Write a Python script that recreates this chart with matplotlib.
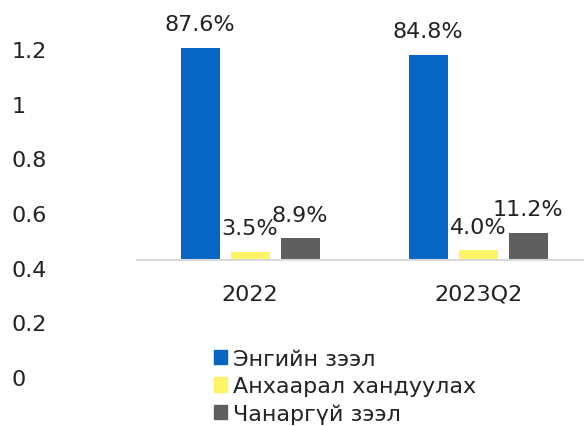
import matplotlib
matplotlib.use("Agg")
import matplotlib.pyplot as plt
from matplotlib.patches import Patch

categories = ["2022", "2023Q2"]
series_names = ["Энгийн зээл", "Анхаарал хандуулах", "Чанаргүй зээл"]
normal = [0.876, 0.848]
watch = [0.035, 0.040]
nonperforming = [0.089, 0.112]
left_ticks = [0, 0.2, 0.4, 0.6, 0.8, 1.0, 1.2]
left_tick_labels = ["0", "0.2", "0.4", "0.6", "0.8", "1", "1.2"]

colors = ["#0766C4", "#FFF465", "#5E5E5E"]
text_color = "#222222"
W, H = 584, 427

plt.rcParams["font.family"] = ["DejaVu Sans"]
fig = plt.figure(figsize=(W / 100, H / 100), dpi=100)

# bars: baseline at y=261px, 1.0 -> 242px; groups centred at x=250 and 478px
ax = fig.add_axes([137 / W, (H - 261) / H, 1 - 137 / W, 242 / H])
ax.set_xlim((137 - 250) / 228, (584 - 250) / 228)
ax.set_ylim(0, 1)
width = 39 / 228
step = 50 / 228
series = [normal, watch, nonperforming]
for i, (vals, col) in enumerate(zip(series, colors)):
    xs = [c + (i - 1) * step for c in range(len(categories))]
    bars = ax.bar(xs, vals, width=width, color=col)
    for b, v in zip(bars, vals):
        ax.annotate(f"{v * 100:.1f}%", (b.get_x() + b.get_width() / 2, v),
                    xytext=(0, 17), textcoords="offset points",
                    ha="center", va="center", fontsize=16, color=text_color)

ax.set_xticks(range(len(categories)))
ax.set_xticklabels(categories, fontsize=16, color=text_color)
ax.tick_params(axis="x", length=0, pad=17)
ax.set_yticks([])
for s in ["top", "right", "left"]:
    ax.spines[s].set_visible(False)
ax.spines["bottom"].set_color("#d9d9d9")
ax.spines["bottom"].set_linewidth(1.5)
ax.patch.set_alpha(0)

# left value scale (0 at 378px, 1.2 at 50px)
ax2 = fig.add_axes([0, (H - 378) / H, 9 / W, 328 / H])
ax2.set_ylim(0, 1.2)
ax2.set_yticks(left_ticks)
ax2.set_yticklabels(left_tick_labels, fontsize=16, color=text_color)
ax2.yaxis.tick_right()
ax2.tick_params(axis="y", length=0, pad=2)
ax2.set_xticks([])
for s in ax2.spines.values():
    s.set_visible(False)
ax2.patch.set_alpha(0)

handles = [Patch(color=c) for c in colors]
fig.legend(handles, series_names, loc="upper left",
           bbox_to_anchor=(214 / W, 1 - 350 / H), frameon=False,
           fontsize=16, labelcolor=text_color, handlelength=0.6,
           handleheight=0.6, handletextpad=0.25, labelspacing=0.33,
           borderpad=0, borderaxespad=0)

fig.savefig("out.png", dpi=100)
